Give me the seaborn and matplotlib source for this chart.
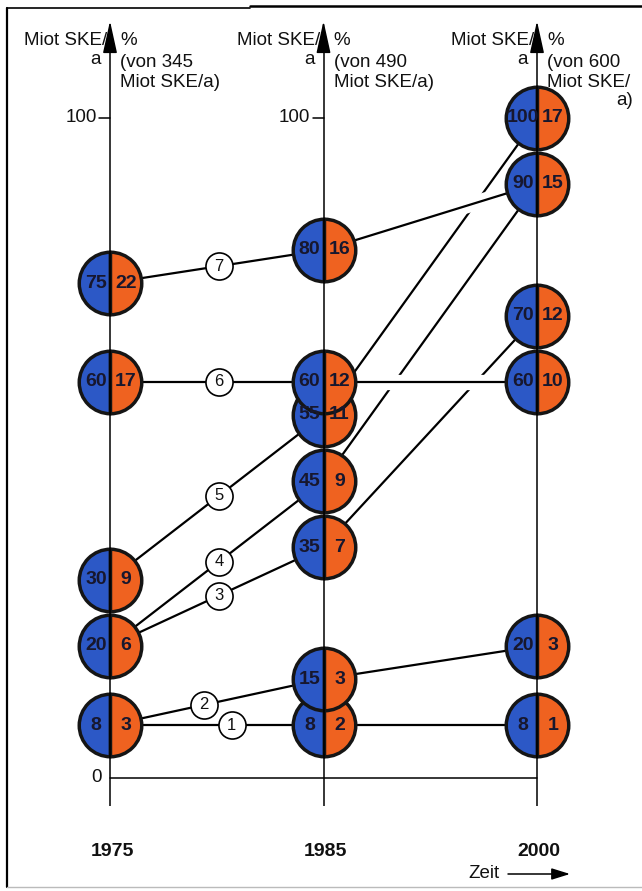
import matplotlib
matplotlib.use("Agg")
import matplotlib.pyplot as plt
import matplotlib.patheffects as pe
from matplotlib.lines import Line2D
import seaborn as sns
import pandas as pd

# ---------------- data ----------------
years = ["1975", "1985", "2000"]
totals = [345, 490, 600]

line_1 = [8, 8, 8]
line_2 = [8, 15, 20]
line_3 = [20, 35, 70]
line_4 = [20, 45, 90]
line_5 = [30, 55, 100]
line_6 = [60, 60, 60]
line_7 = [75, 80, 90]
line_ids = [1, 2, 3, 4, 5, 6, 7]

val_1975 = [8, 20, 30, 60, 75]
pct_1975 = [3, 6, 9, 17, 22]
val_1985 = [8, 15, 35, 45, 55, 60, 80]
pct_1985 = [2, 3, 7, 9, 11, 12, 16]
val_2000 = [8, 20, 60, 70, 90, 100]
pct_2000 = [1, 3, 10, 12, 15, 17]

# where the line number badge sits along the first segment
label_frac = [0.57, 0.44, 0.51, 0.51, 0.51, 0.51, 0.51]

# ---------------- style ----------------
sns.set_theme(style="white")
plt.rcParams["font.family"] = ["Liberation Sans", "DejaVu Sans"]

BLUE = "#2c58c6"
ORANGE = "#ef6220"
INK = "#17172e"

W, H = 642, 891
fig = plt.figure(figsize=(W / 100, H / 100), dpi=100)
ax = fig.add_axes([0, 0, 1, 1])

X0, XS = 110, 213.5   # pixel of 1975 axis, px per year step
Y0, YS = 778, 6.6     # pixel of value 0, px per unit


def X(px):
    return (px - X0) / XS


def Y(py):
    return (Y0 - py) / YS


ax.set_xlim(X(0), X(W))
ax.set_ylim(Y(H), Y(0))
ax.axis("off")

# ---------------- connecting lines ----------------
all_lines = [line_1, line_2, line_3, line_4, line_5, line_6, line_7]
rows = []
for lid, vals in zip(line_ids, all_lines):
    for i, v in enumerate(vals):
        rows.append({"line": lid, "pos": i, "value": v})
df = pd.DataFrame(rows)

under = df[df["line"] <= 5]
over = df[df["line"] >= 6]
sns.lineplot(data=under, x="pos", y="value", units="line", estimator=None,
             color="black", lw=1.6, sort=False, legend=False, ax=ax, zorder=2)
sns.lineplot(data=over, x="pos", y="value", units="line", estimator=None,
             color="black", lw=1.6, sort=False, legend=False, ax=ax, zorder=2.5,
             path_effects=[pe.Stroke(linewidth=11, foreground="white"), pe.Normal()])
ax.set_xlabel("")
ax.set_ylabel("")
ax.set_xlim(X(0), X(W))
ax.set_ylim(Y(H), Y(0))

# ---------------- axes ----------------
for i in range(3):
    ax.plot([i, i], [Y(806), Y(40)], color="black", lw=1.1, zorder=5,
            solid_capstyle="butt")
    ax.annotate("", xy=(i, Y(21)), xytext=(i, Y(48)),
                arrowprops=dict(arrowstyle="-|>,head_length=1.0,head_width=0.22",
                                color="black", lw=1.1, mutation_scale=20,
                                shrinkA=0, shrinkB=0), zorder=5)
ax.plot([0, 2], [0, 0], color="black", lw=1.1, zorder=1)

# 100 ticks
for i in range(2):
    ax.plot([i - 11 / XS, i], [100, 100], color="black", lw=1.1)
    ax.text(i - 13 / XS, 100, "100", ha="right", va="center", fontsize=13.5, color="#111")
ax.text(X(97), 0, "0", ha="center", va="center", fontsize=13.5, color="#111")

# ---------------- circles ----------------
nodes = [val_1975, val_1985, val_2000]
pcts = [pct_1975, pct_1985, pct_2000]
for i in range(3):
    for v, p in zip(nodes[i], pcts[i]):
        ax.plot([i], [v], marker="o", ms=45, mew=2.5, fillstyle="left",
                mfc=BLUE, mfcalt=ORANGE, mec="#151515", ls="none", zorder=3)
        ax.text(i - 14 / XS, v, str(v), ha="center", va="center",
                fontsize=14, fontweight="bold", color=INK, zorder=6)
        ax.text(i + 16 / XS, v, str(p), ha="center", va="center",
                fontsize=14, fontweight="bold", color=INK, zorder=6)

# ---------------- line number badges ----------------
for lid, vals, t in zip(line_ids, all_lines, label_frac):
    yv = vals[0] + t * (vals[1] - vals[0])
    ax.plot([t], [yv], marker="o", ms=19.5, mfc="white", mec="black", mew=1.2,
            ls="none", zorder=4)
    ax.text(t, yv, str(lid), ha="center", va="center", fontsize=12,
            color="#111", zorder=6)

# ---------------- header texts ----------------
for i, tot in enumerate(totals):
    ax.text(i - 3 / XS, Y(41), "Miot SKE/", ha="right", va="center", fontsize=13.5, color="#111")
    ax.text(i - 9 / XS, Y(60), "a", ha="right", va="center", fontsize=13.5, color="#111")
    ax.text(i + 10 / XS, Y(41), "%", ha="left", va="center", fontsize=13.5, color="#111")
    ax.text(i + 10 / XS, Y(63), f"(von {tot}", ha="left", va="center", fontsize=13.5, color="#111")
    if i < 2:
        ax.text(i + 10 / XS, Y(83), "Miot SKE/a)", ha="left", va="center", fontsize=13.5, color="#111")
    else:
        ax.text(i + 10 / XS, Y(83), "Miot SKE/", ha="left", va="center", fontsize=13.5, color="#111")
        ax.text(X(633), Y(101), "a)", ha="right", va="center", fontsize=13.5, color="#111")

# ---------------- year labels ----------------
for i, yr in enumerate(years):
    ax.text(i + 2 / XS, Y(851), yr, ha="center", va="center", fontsize=14,
            fontweight="bold", color="#111")
ax.text(X(484), Y(874), "Zeit", ha="center", va="center", fontsize=13.5, color="#111")
ax.annotate("", xy=(X(570), Y(874)), xytext=(X(508), Y(874)),
            arrowprops=dict(arrowstyle="-|>,head_length=0.8,head_width=0.25",
                            color="black", lw=1.1, mutation_scale=14,
                            shrinkA=0, shrinkB=0))

# ---------------- frame ----------------
def fl(x1, y1, x2, y2, lw=1.5, c="black"):
    fig.add_artist(Line2D([x1 / W, x2 / W], [1 - y1 / H, 1 - y2 / H], lw=lw, color=c))

fl(7, 8, 7, 887, lw=1.6)
fl(7, 8, 250, 8, lw=1.2)
fl(250, 6, 642, 6, lw=1.8)
fl(7, 887, 642, 887, lw=1.0, c="#bbbbbb")

fig.savefig("out.png", dpi=100)
